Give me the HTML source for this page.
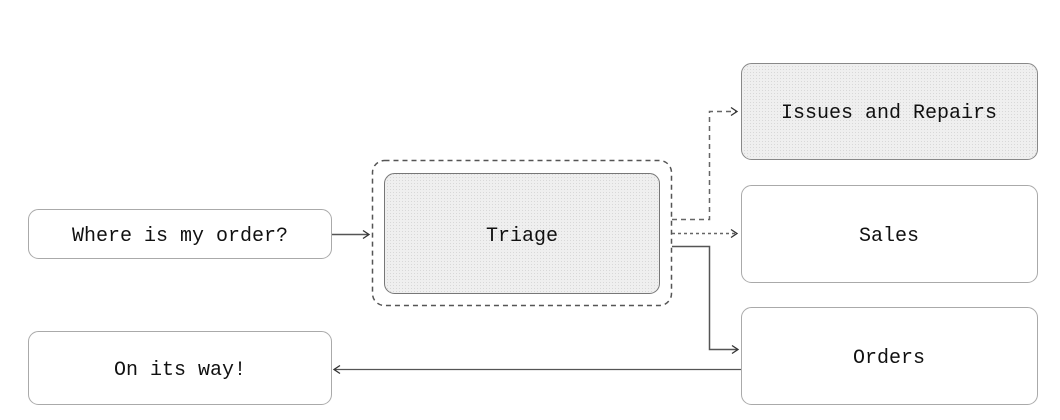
<!DOCTYPE html>
<html><head><meta charset="utf-8"><style>
html,body{margin:0;padding:0;background:#fff;}
svg{display:block;}
text{font-family:"Liberation Mono","DejaVu Sans Mono",monospace;font-size:20px;fill:#111;}
</style></head><body>
<svg width="1060" height="420" viewBox="0 0 1060 420" xmlns="http://www.w3.org/2000/svg">
<defs>
<pattern id="dots" width="3" height="3" patternUnits="userSpaceOnUse">
<rect width="3" height="3" fill="#efefef"/>
<rect width="1" height="1" fill="#d8d8d8"/>
</pattern>
<marker id="ah" markerWidth="10" markerHeight="10" refX="8" refY="5" orient="auto" markerUnits="userSpaceOnUse">
<path d="M2,1 L8,5 L2,9" fill="none" stroke="#333" stroke-width="1.3"/>
</marker>
</defs>

<!-- Where is my order -->
<rect x="28.5" y="209.5" width="303" height="49" rx="10" fill="#fff" stroke="#aaa"/>
<text x="180" y="241" text-anchor="middle">Where is my order?</text>

<!-- On its way -->
<rect x="28.5" y="331.5" width="303" height="73" rx="10" fill="#fff" stroke="#aaa"/>
<text x="180" y="375" text-anchor="middle">On its way!</text>

<!-- container -->
<rect x="372.5" y="160.5" width="299" height="145" rx="12" fill="none" stroke="#555" stroke-width="1.5" stroke-dasharray="5,4"/>
<rect x="384.5" y="173.5" width="275" height="120" rx="10" fill="url(#dots)" stroke="#777"/>
<text x="522" y="241" text-anchor="middle">Triage</text>

<!-- right boxes -->
<rect x="741.5" y="63.5" width="296" height="96" rx="10" fill="url(#dots)" stroke="#888"/>
<text x="889" y="118" text-anchor="middle">Issues and Repairs</text>
<rect x="741.5" y="185.5" width="296" height="97" rx="10" fill="#fff" stroke="#aaa"/>
<text x="889" y="241" text-anchor="middle">Sales</text>
<rect x="741.5" y="307.5" width="296" height="97" rx="10" fill="#fff" stroke="#aaa"/>
<text x="889" y="363" text-anchor="middle">Orders</text>

<!-- connectors -->
<line x1="332" y1="234.5" x2="369" y2="234.5" stroke="#555" stroke-width="1.5" marker-end="url(#ah)"/>
<path d="M672,219.5 H709.5 V111.5 H737" fill="none" stroke="#666" stroke-width="1.5" stroke-dasharray="5,4" marker-end="url(#ah)"/>
<path d="M672,233.5 H737" fill="none" stroke="#666" stroke-width="1.5" stroke-dasharray="3,3" marker-end="url(#ah)"/>
<path d="M672,246.5 H709.5 V349.5 H738" fill="none" stroke="#555" stroke-width="1.5" marker-end="url(#ah)"/>
<line x1="741" y1="369.5" x2="334" y2="369.5" stroke="#555" stroke-width="1.3" marker-end="url(#ah)"/>
</svg>
</body></html>
